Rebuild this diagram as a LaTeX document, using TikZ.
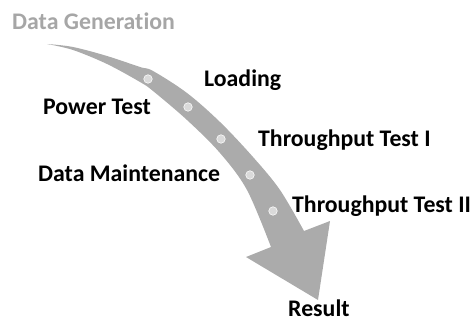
\documentclass[tikz,border=0pt]{standalone}
\usepackage{fontspec}
\setmainfont{Carlito}[Ligatures=NoCommon]
\definecolor{arrowgray}{HTML}{ABABAB}
\definecolor{dotgray}{HTML}{DADADA}
\definecolor{titlegray}{HTML}{A6A6A6}
\begin{document}
\begin{tikzpicture}[x=1pt,y=-1pt,
  lbl/.style={anchor=base west,inner sep=0pt,font=\fontsize{23.8}{25}\selectfont\bfseries,text=black},
  stepdot/.style={circle,fill=dotgray,draw=white!92!dotgray,line width=0.6pt,inner sep=0pt,minimum size=8.5pt}]
\useasboundingbox (0,0) rectangle (474,321);
\fill[arrowgray]
  plot[smooth,tension=0.55] coordinates {(47,44) (73,47) (107,56) (140,67) (153,71) (187,93) (220,122) (253,157) (280,190) (304,231)}
  -- (330,221) -- (318,300) -- (246,257) -- (271,247)
  -- plot[smooth,tension=0.55] coordinates {(271,247) (247,190) (220,153) (187,120) (153,91) (140,82) (107,64) (73,50) (47,44)}
  -- cycle;
\node[stepdot] (d1) at (148,79) {};
\node[stepdot] (d2) at (188,107) {};
\node[stepdot] (d3) at (221,139) {};
\node[stepdot] (d4) at (250,175) {};
\node[stepdot] (d5) at (273,211) {};
\node[lbl,text=titlegray] (gen) at (12,30) {Data Generation};
\node[lbl] (load) at (204,87) {Loading};
\node[lbl] (power) at (43,114) {Power Test};
\node[lbl] (tp1) at (258,146.5) {Throughput Test I};
\node[lbl] (maint) at (38,181.5) {Data Maintenance};
\node[lbl] (tp2) at (292,212.5) {Throughput Test II};
\node[lbl] (res) at (288,316) {Result};
\end{tikzpicture}
\end{document}
